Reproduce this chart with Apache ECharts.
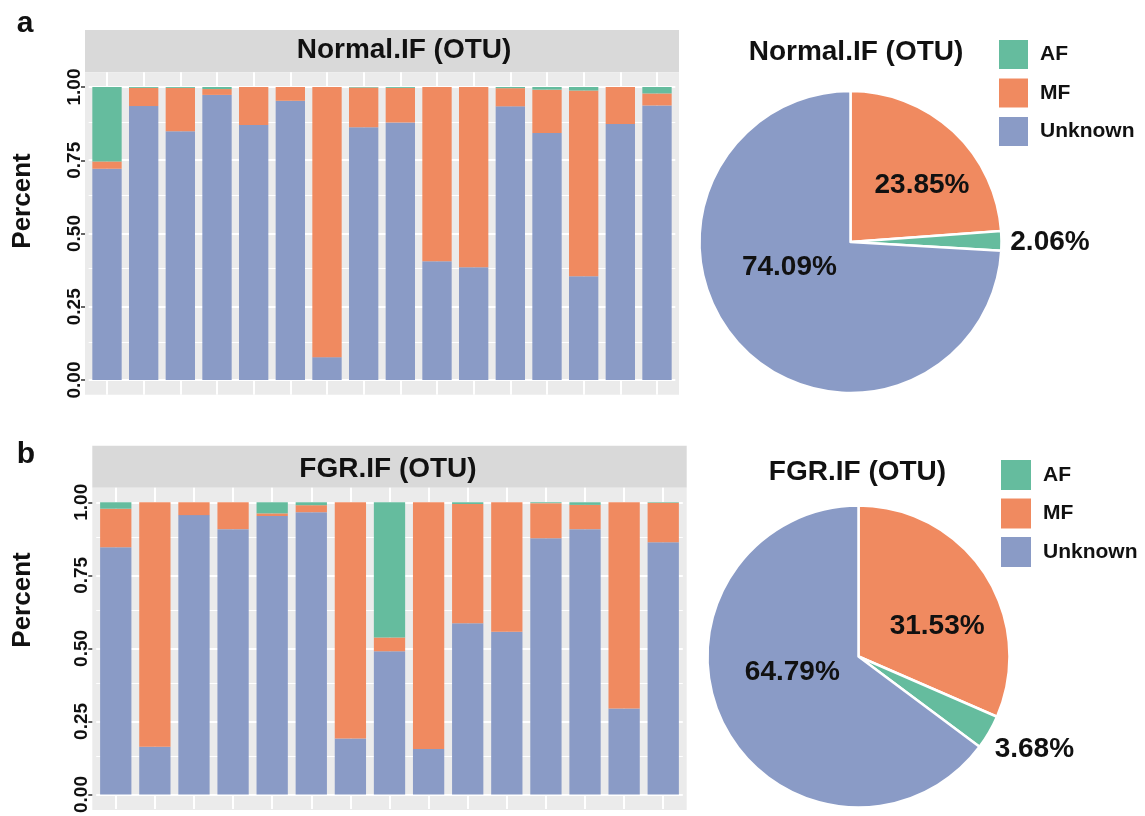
<!DOCTYPE html>
<html>
<head>
<meta charset="utf-8">
<script src="https://cdn.jsdelivr.net/npm/echarts@6/dist/echarts.min.js"></script>
<style>
  html, body { margin: 0; padding: 0; background: #ffffff; }
  #chart { width: 1145px; height: 816px; }
</style>
</head>
<body>
<div id="chart"></div>
<script>
// ---- data -------------------------------------------------------------
const groups = ['AF', 'MF', 'Unknown'];

const normalSamples = ['N1','N2','N3','N4','N5','N6','N7','N8','N9','N10','N11','N12','N13','N14','N15','N16'];
const normalAF      = [0.254, 0.003, 0.003, 0.007, 0, 0, 0, 0.002, 0.003, 0, 0, 0.004, 0.009, 0.012, 0, 0.022];
const normalMF      = [0.025, 0.062, 0.148, 0.020, 0.130, 0.047, 0.922, 0.135, 0.118, 0.595, 0.615, 0.062, 0.148, 0.634, 0.126, 0.041];
const normalUnknown = [0.721, 0.935, 0.849, 0.973, 0.870, 0.953, 0.078, 0.863, 0.879, 0.405, 0.385, 0.934, 0.843, 0.354, 0.874, 0.937];

const fgrSamples    = ['F1','F2','F3','F4','F5','F6','F7','F8','F9','F10','F11','F12','F13','F14','F15'];
const fgrAF         = [0.022, 0, 0, 0, 0.038, 0.010, 0, 0.463, 0, 0.006, 0, 0.003, 0.009, 0, 0.002];
const fgrMF         = [0.132, 0.837, 0.044, 0.092, 0.009, 0.024, 0.808, 0.047, 0.844, 0.408, 0.443, 0.120, 0.083, 0.706, 0.135];
const fgrUnknown    = [0.846, 0.163, 0.956, 0.908, 0.953, 0.966, 0.192, 0.490, 0.156, 0.586, 0.557, 0.877, 0.908, 0.294, 0.863];

// pie slices, drawn clockwise from 12 o'clock in this order
const pieOrder        = ['MF', 'AF', 'Unknown'];
const normalPieValues = [23.85, 2.06, 74.09];
const fgrPieValues    = [31.53, 3.68, 64.79];

const yTickValues  = [0, 0.25, 0.5, 0.75, 1];
const yMinorValues = [0.125, 0.375, 0.625, 0.875];

// ---- styling ----------------------------------------------------------
const FONT = "'Liberation Sans', Arial, Helvetica, sans-serif";
const INK = '#111111';
const colors = { AF: '#65BC9E', MF: '#F08A60', Unknown: '#8A9BC6' };

// facet panels: outer panel box (grey background), strip on top
const panels = [
  { left: 85,   right: 679,   top: 72.35,  bottom: 394.65, stripTop: 30,    title: 'Normal.IF (OTU)', titleX: 404, titleY: 50,  n: 16 },
  { left: 92.3, right: 686.7, top: 487.65, bottom: 809.95, stripTop: 445.7, title: 'FGR.IF (OTU)',    titleX: 388, titleY: 469, n: 15 }
];

// label nudges for pie percentages (dx, dy from the slice's inner label spot)
const pieNudges = [
  [[18, 1], [121, 1], [-4, -29]],
  [[13, 13], [108, 53], [4, -19]]
];

// ---- build ------------------------------------------------------------
const grids = [], xAxes = [], yAxes = [], series = [], graphics = [];

function addBarPanel(idx, samples, af, mf, unk) {
  const p = panels[idx];
  const unit = (p.right - p.left) / (p.n + 0.2);
  const gLeft = p.left + 0.1 * unit;
  grids.push({
    left: gLeft, top: p.top,
    width: unit * p.n, height: p.bottom - p.top,
    show: false, containLabel: false
  });
  xAxes.push({
    type: 'category', gridIndex: idx, data: samples,
    axisLine: { show: false }, axisTick: { show: false },
    axisLabel: { show: false }, splitLine: { show: false }
  });
  yAxes.push({
    type: 'value', gridIndex: idx, min: -0.05, max: 1.05,
    offset: 0.1 * unit,
    axisLine: { show: false },
    axisTick: { show: true, length: 4, customValues: yTickValues,
                lineStyle: { color: '#333333', width: 1.5 } },
    axisLabel: { show: true, customValues: yTickValues, rotate: 90, margin: 1,
                 formatter: v => v.toFixed(2),
                 fontFamily: FONT, fontSize: 19, fontWeight: 'bold', color: INK },
    splitLine: { show: false }, minorSplitLine: { show: false }
  });

  // white panel grid lines, kept under the bars
  const gridLines = []
    .concat(yTickValues.map(v => ({ yAxis: v, lineStyle: { width: 2 } })))
    .concat(yMinorValues.map(v => ({ yAxis: v, lineStyle: { width: 1 } })))
    .concat(samples.map(s => ({ xAxis: s, lineStyle: { width: 2 } })));

  const stack = 'stack' + idx;
  const values = { Unknown: unk, MF: mf, AF: af };
  ['Unknown', 'MF', 'AF'].forEach((g, k) => {
    const s = {
      type: 'bar', name: g, stack: stack,
      xAxisIndex: idx, yAxisIndex: idx,
      data: values[g], barWidth: '80%',
      itemStyle: { color: colors[g], borderWidth: 0 },
      emphasis: { disabled: true }, silent: true, z: 2
    };
    if (k === 0) {
      s.markLine = {
        silent: true, symbol: ['none', 'none'], z: 1,
        label: { show: false }, emphasis: { disabled: true },
        lineStyle: { color: '#ffffff', type: 'solid' },
        data: gridLines
      };
    }
    series.push(s);
  });

  graphics.push(
    { type: 'rect', z: -2, silent: true,
      shape: { x: p.left, y: p.stripTop, width: p.right - p.left, height: p.top - p.stripTop },
      style: { fill: '#D9D9D9' } },
    { type: 'rect', z: -2, silent: true,
      shape: { x: p.left, y: p.top, width: p.right - p.left, height: p.bottom - p.top },
      style: { fill: '#EBEBEB' } },
    { type: 'text', z: 10, silent: true, x: p.titleX, y: p.titleY,
      style: { text: p.title, fontFamily: FONT, fontSize: 28, fontWeight: 'bold',
               fill: INK, align: 'center', verticalAlign: 'middle' } }
  );
}

addBarPanel(0, normalSamples, normalAF, normalMF, normalUnknown);
addBarPanel(1, fgrSamples, fgrAF, fgrMF, fgrUnknown);

function addPie(idx, values, center, radius) {
  series.push({
    type: 'pie', center: center, radius: radius,
    startAngle: 90, clockwise: true, silent: true,
    avoidLabelOverlap: false,
    data: pieOrder.map((n, i) => ({ name: n, value: values[i], itemStyle: { color: colors[n] } })),
    itemStyle: { borderColor: '#ffffff', borderWidth: 2.5 },
    label: {
      show: true, position: 'inside',
      formatter: p => p.value.toFixed(2) + '%',
      fontFamily: FONT, fontSize: 28, fontWeight: 'bold', color: INK,
      textBorderWidth: 0
    },
    labelLine: { show: false },
    labelLayout: p => ({ dx: pieNudges[idx][p.dataIndex][0], dy: pieNudges[idx][p.dataIndex][1] }),
    emphasis: { disabled: true }
  });
}

addPie(0, normalPieValues, [850.5, 242], 151);
addPie(1, fgrPieValues, [858.5, 656.5], 151);

// pie titles, axis titles and panel tags
graphics.push(
  { type: 'text', silent: true, x: 856, y: 52,
    style: { text: 'Normal.IF (OTU)', fontFamily: FONT, fontSize: 28, fontWeight: 'bold',
             fill: INK, align: 'center', verticalAlign: 'middle' } },
  { type: 'text', silent: true, x: 857.5, y: 472,
    style: { text: 'FGR.IF (OTU)', fontFamily: FONT, fontSize: 28, fontWeight: 'bold',
             fill: INK, align: 'center', verticalAlign: 'middle' } },
  { type: 'text', silent: true, x: 23, y: 201, rotation: Math.PI / 2,
    style: { text: 'Percent', fontFamily: FONT, fontSize: 26, fontWeight: 'bold',
             fill: INK, align: 'center', verticalAlign: 'middle' } },
  { type: 'text', silent: true, x: 23, y: 600, rotation: Math.PI / 2,
    style: { text: 'Percent', fontFamily: FONT, fontSize: 26, fontWeight: 'bold',
             fill: INK, align: 'center', verticalAlign: 'middle' } },
  { type: 'text', silent: true, x: 25, y: 24,
    style: { text: 'a', fontFamily: FONT, fontSize: 30, fontWeight: 'bold',
             fill: INK, align: 'center', verticalAlign: 'middle' } },
  { type: 'text', silent: true, x: 26, y: 455,
    style: { text: 'b', fontFamily: FONT, fontSize: 30, fontWeight: 'bold',
             fill: INK, align: 'center', verticalAlign: 'middle' } }
);

function legendAt(left, top, size, gap) {
  return {
    orient: 'vertical', left: left, top: top, padding: 0,
    itemWidth: size, itemHeight: size, itemGap: gap,
    icon: 'rect', selectedMode: false,
    data: groups,
    textStyle: { fontFamily: FONT, fontSize: 21, fontWeight: 'bold', color: INK,
                 padding: [0, 0, 0, 7] }
  };
}

const chart = echarts.init(document.getElementById('chart'), null, { renderer: 'canvas' });
chart.setOption({
  animation: false,
  backgroundColor: '#ffffff',
  textStyle: { fontFamily: FONT },
  grid: grids,
  xAxis: xAxes,
  yAxis: yAxes,
  legend: [legendAt(999, 40, 29, 9.5), legendAt(1001, 460, 30, 8.5)],
  series: series,
  graphic: { elements: graphics }
});
</script>
</body>
</html>
